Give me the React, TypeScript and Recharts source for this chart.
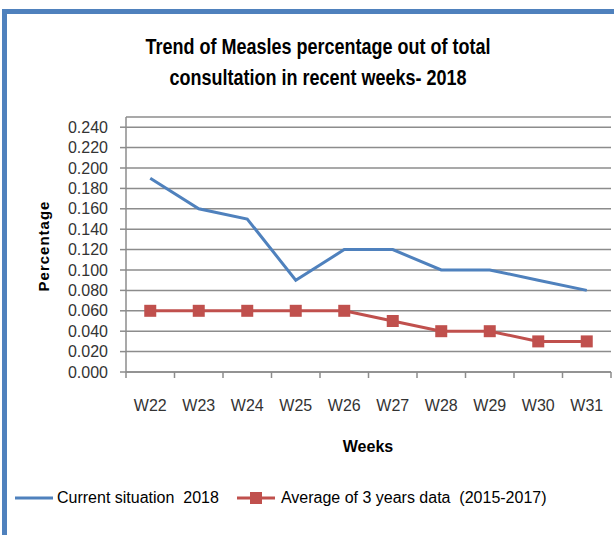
import { LineChart, Line, XAxis, YAxis, CartesianGrid } from "recharts";

const weeks = ["W22", "W23", "W24", "W25", "W26", "W27", "W28", "W29", "W30", "W31"];
const current2018 = [0.19, 0.16, 0.15, 0.09, 0.12, 0.12, 0.1, 0.1, 0.09, 0.08];
const average3Years = [0.06, 0.06, 0.06, 0.06, 0.06, 0.05, 0.04, 0.04, 0.03, 0.03];
const yTicks = [0, 0.02, 0.04, 0.06, 0.08, 0.1, 0.12, 0.14, 0.16, 0.18, 0.2, 0.22, 0.24];

const data = weeks.map((week, i) => ({
  week,
  current: current2018[i],
  average: average3Years[i],
}));

const BLUE = "#4F81BD";
const RED = "#C0504D";
const GRID = "#8c8c8c";
const FONT = "'Liberation Sans', Arial, sans-serif";

const SquareDot = (props: any) => {
  const { cx, cy, index } = props;
  return <rect key={index} x={cx - 6} y={cy - 6} width={12} height={12} fill={RED} />;
};

// category label in the middle, tick marks on the band edges (like Excel)
const WeekTick = (props: any) => {
  const { x, y, payload, index, visibleTicksCount } = props;
  const half = payload.offset || 0;
  const last = index === visibleTicksCount - 1;
  return (
    <g>
      <line x1={x - half} y1={y} x2={x - half} y2={y + 6} stroke={GRID} strokeWidth={1.5} />
      {last && (
        <line x1={x + half} y1={y} x2={x + half} y2={y + 6} stroke={GRID} strokeWidth={1.5} />
      )}
      <text x={x} y={y + 28} dy="0.71em" textAnchor="middle" fill="#333" fontSize={16} fontFamily={FONT}>
        {payload.value}
      </text>
    </g>
  );
};

export default function App() {
  return (
    <div
      style={{
        position: "absolute",
        left: 0,
        top: 0,
        width: 614,
        height: 535,
        background: "#fff",
        overflow: "hidden",
        fontFamily: FONT,
      }}
    >
      <div
        style={{
          position: "absolute",
          left: 2,
          top: 9,
          width: 700,
          height: 600,
          borderLeft: `5px solid ${BLUE}`,
          borderTop: `5px solid ${BLUE}`,
        }}
      />
      <div
        style={{
          position: "absolute",
          left: 0,
          top: 31,
          width: 636,
          textAlign: "center",
          fontSize: 18,
          fontWeight: "bold",
          lineHeight: "25px",
          color: "#000",
          transform: "scaleY(1.25)",
          transformOrigin: "center top",
        }}
      >
        Trend of Measles percentage out of total
        <br />
        consultation in recent weeks- 2018
      </div>

      <div style={{ position: "absolute", left: 0, top: 0 }}>
        <LineChart
          width={614}
          height={535}
          data={data}
          margin={{ top: 117, right: 3, bottom: 123, left: 0 }}
        >
          <CartesianGrid vertical={false} stroke={GRID} strokeWidth={1.5} />
          <XAxis
            dataKey="week"
            scale="band"
            height={40}
            axisLine={{ stroke: GRID, strokeWidth: 1.5 }}
            tickLine={false}
            tickSize={0}
            tickMargin={0}
            tick={WeekTick}
            interval={0}
          />
          <YAxis
            width={126}
            domain={[0, 0.25]}
            ticks={yTicks}
            tickFormatter={(v: number) => v.toFixed(3)}
            axisLine={{ stroke: GRID, strokeWidth: 1.5 }}
            tickLine={{ stroke: GRID, strokeWidth: 1.5 }}
            tickSize={6}
            tickMargin={12}
            tick={{ fill: "#333", fontSize: 16, fontFamily: FONT }}
            interval={0}
          />
          <Line
            dataKey="current"
            stroke={BLUE}
            strokeWidth={3}
            dot={false}
            isAnimationActive={false}
          />
          <Line
            dataKey="average"
            stroke={RED}
            strokeWidth={3}
            dot={SquareDot}
            isAnimationActive={false}
          />
        </LineChart>
      </div>

      <div
        style={{
          position: "absolute",
          left: 43,
          top: 246,
          transform: "translate(-50%, -50%) rotate(-90deg)",
          fontSize: 15,
          fontWeight: "bold",
          letterSpacing: 1,
          color: "#000",
          whiteSpace: "nowrap",
        }}
      >
        Percentage
      </div>
      <div
        style={{
          position: "absolute",
          left: 368,
          top: 447,
          transform: "translate(-50%, -50%)",
          fontSize: 16,
          fontWeight: "bold",
          color: "#000",
        }}
      >
        Weeks
      </div>

      <div
        style={{
          position: "absolute",
          left: 15,
          top: 488,
          height: 20,
          display: "flex",
          alignItems: "center",
          fontSize: 16,
          color: "#000",
          whiteSpace: "pre",
        }}
      >
        <svg width={40} height={20}>
          <line x1={0} y1={10} x2={38} y2={10} stroke={BLUE} strokeWidth={3} />
        </svg>
        <span style={{ marginLeft: 2 }}>Current situation  2018</span>
        <svg width={42} height={20} style={{ marginLeft: 16 }}>
          <line x1={2} y1={10} x2={40} y2={10} stroke={RED} strokeWidth={3} />
          <rect x={15} y={4} width={12} height={12} fill={RED} />
        </svg>
        <span style={{ marginLeft: 4 }}>Average of 3 years data  (2015-2017)</span>
      </div>
    </div>
  );
}
